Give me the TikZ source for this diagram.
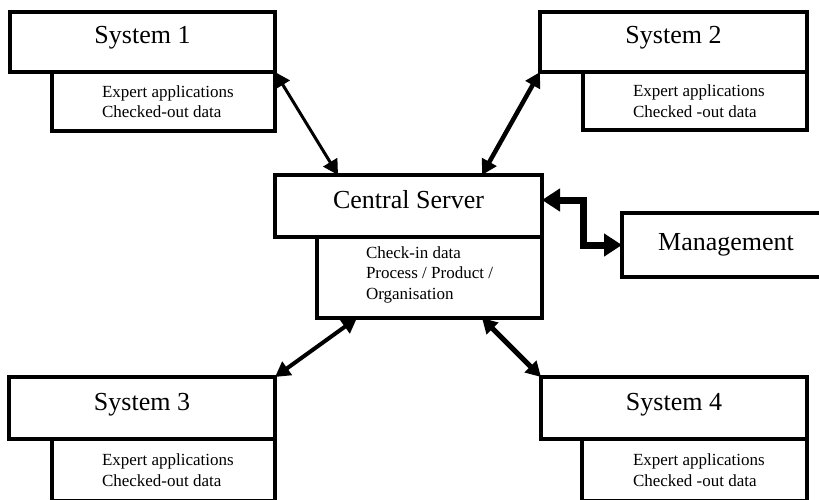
\documentclass[tikz,border=0pt]{standalone}
\usepackage{fontspec}
\setmainfont{Liberation Serif}
\usetikzlibrary{positioning, arrows.meta}
\tikzset{
	head/.style={draw, line width=3.5pt, outer sep=0pt, minimum height=60pt,
		text height=18pt, text depth=14pt, font=\fontsize{26}{30}\selectfont},
	body/.style={draw, line width=3.5pt, outer sep=0pt},
	info/.style={inner sep=0pt, outer sep=0pt, align=left, font=\fontsize{17}{20.5}\selectfont},
	link/.style={{Triangle[length=15pt,width=16pt]}-{Triangle[length=15pt,width=16pt]}, line width=#1},
	bus/.style={{Triangle[length=18pt,width=22pt]}-{Triangle[length=18pt,width=22pt]}, line width=7pt},
}

\begin{document}
\begin{tikzpicture}[x=1pt, y=1pt]
\useasboundingbox (0,0) rectangle (819,499);

% systems on the four corners
\node[head, minimum width=265pt] (s1) at (142.5,457) {System 1};
\node[body, minimum width=223pt, minimum height=59pt, below left=0pt and 0pt of s1.south east] (s1b) {};
\node[info, right=50pt of s1b.west] (s1t) {Expert applications\\Checked-out data};

\node[head, minimum width=267pt] (s2) at (673.5,457) {System 2};
\node[body, minimum width=224pt, minimum height=58pt, below left=0pt and 0pt of s2.south east] (s2b) {};
\node[info, right=50pt of s2b.west] (s2t) {Expert applications\\Checked -out data};

\node[head, minimum width=266pt, minimum height=62pt] (s3) at (142,91) {System 3};
\node[body, minimum width=223pt, minimum height=62pt, below left=0pt and 0pt of s3.south east] (s3b) {};
\node[info, right=50pt of s3b.west] (s3t) {Expert applications\\Checked-out data};

\node[head, minimum width=266pt, minimum height=62pt] (s4) at (674,91) {System 4};
\node[body, minimum width=225pt, minimum height=62pt, below left=0pt and 0pt of s4.south east] (s4b) {};
\node[info, right=51pt of s4b.west] (s4t) {Expert applications\\Checked -out data};

% server and management
\node[head, minimum width=267pt, minimum height=62pt] (cen) at (408.5,293) {Central Server};
\node[body, minimum width=225pt, minimum height=81pt, below left=0pt and 0pt of cen.south east] (cenb) {};
\node[info, right=49pt of cenb.west, yshift=3pt] (cent) {Check-in data\\Process / Product /\\Organisation};

\node[head, minimum width=208pt, minimum height=64pt, text depth=8pt] (mgmt) at (726,254) {Management};

% connectors
\draw[link=3pt] (s1.south east) -- ([xshift=63pt]cen.north west);
\draw[link=4.5pt] (s2.south west) -- ([xshift=-60pt]cen.north east);
\draw[link=4pt] ([xshift=40pt]cenb.south west) -- (s3.north east);
\draw[link=5pt] ([xshift=-60pt]cenb.south east) -- (s4.north west);
\draw[bus] ([yshift=6pt]cen.east) -- ++(41,0) |- (mgmt.west);
\end{tikzpicture}
\end{document}
